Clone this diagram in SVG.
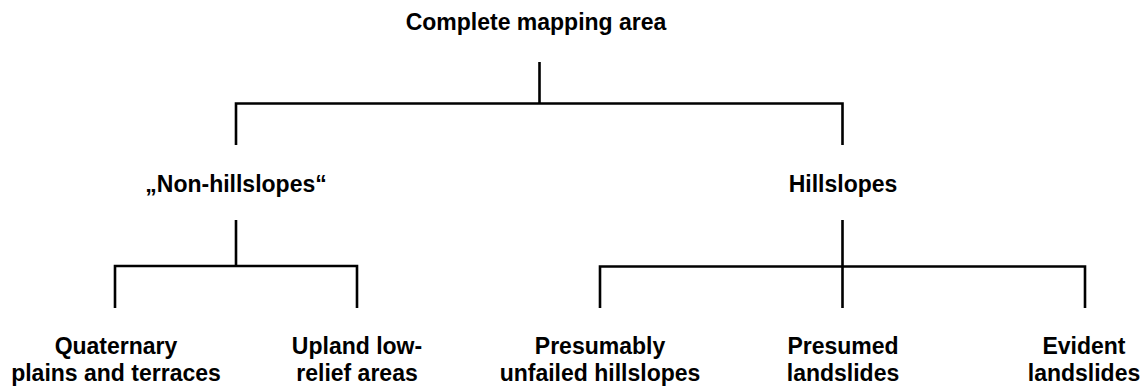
<svg xmlns="http://www.w3.org/2000/svg" width="1148" height="387" viewBox="0 0 1148 387">
<style>
text{font-family:"Liberation Sans",Arial,sans-serif;font-weight:bold;font-size:23px;fill:#000;text-anchor:middle}
.c{fill:none;stroke:#000;stroke-width:2.6;stroke-linejoin:miter;stroke-linecap:butt}
</style>
<rect width="1148" height="387" fill="#fff"/>
<g id="connectors">
<path class="c" d="M539.5 62V103.5M236 145V103.5H842.5V145"/>
<path class="c" d="M236 220V266M115 308V266H357V308"/>
<path class="c" d="M842.5 220V308M600 308V266.5H1085V308"/>
</g>
<g id="root"><text x="536" y="30">Complete mapping area</text></g>
<g id="non-hillslopes"><text x="236" y="192">„Non-hillslopes“</text></g>
<g id="hillslopes"><text x="843" y="192">Hillslopes</text></g>
<g id="quaternary"><text x="116" y="354">Quaternary</text><text x="116" y="381">plains and terraces</text></g>
<g id="upland"><text x="357" y="354">Upland low-</text><text x="357" y="381">relief areas</text></g>
<g id="unfailed"><text x="600" y="354">Presumably</text><text x="600" y="381">unfailed hillslopes</text></g>
<g id="presumed"><text x="843" y="354">Presumed</text><text x="843" y="381">landslides</text></g>
<g id="evident"><text x="1084" y="354">Evident</text><text x="1084" y="381">landslides</text></g>
</svg>
